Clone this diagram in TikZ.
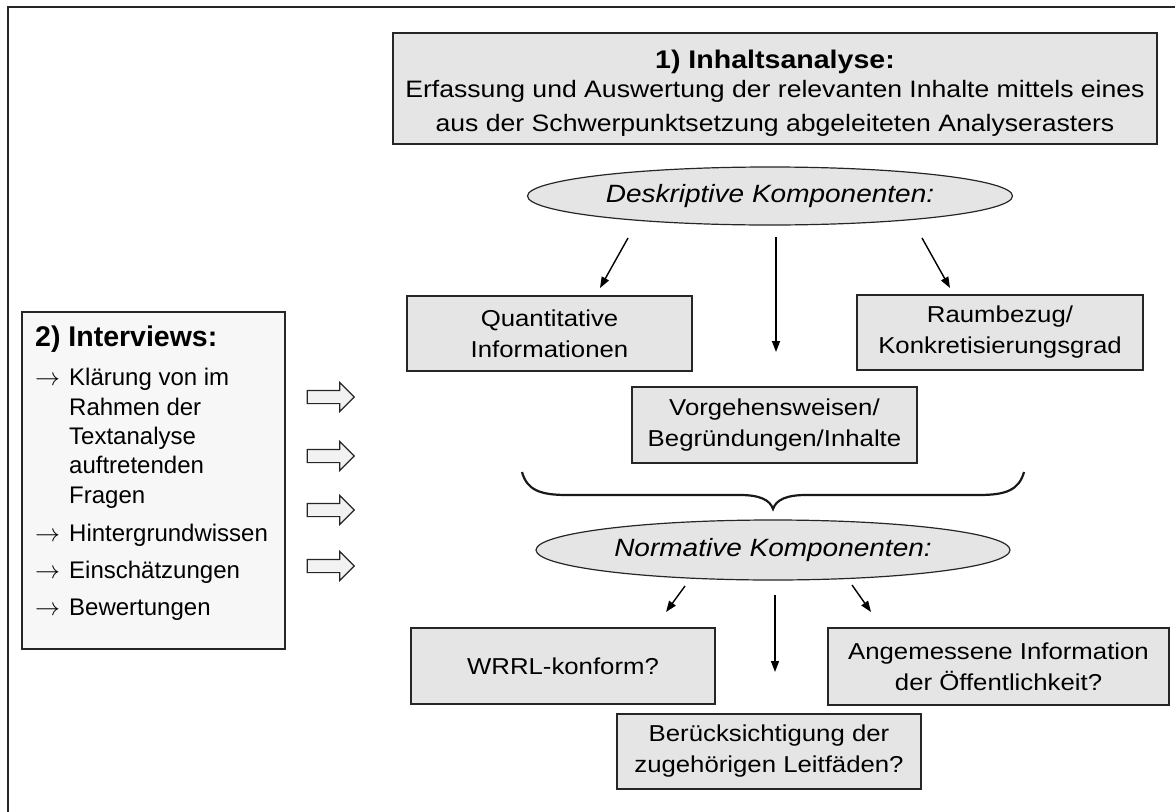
\documentclass[tikz,border=0pt]{standalone}
\usepackage{fontspec}
\setmainfont{Liberation Sans}
\newfontfamily\breit{Liberation Sans}[FakeStretch=1.12]
\usetikzlibrary{shapes.geometric,shapes.arrows,arrows.meta,positioning}

\newcommand{\pf}{\makebox[34pt][l]{$\rightarrow$}}
\newcommand{\einr}{\hspace*{34pt}}

\begin{document}
\begin{tikzpicture}[x=1pt,y=-1pt,
      kasten/.style={rectangle, draw=black!85, fill=gray!20, line width=1.4pt, inner sep=0pt, align=center, font=\breit\fontsize{23}{31}\selectfont},
      oval/.style={ellipse, draw=black!85, fill=gray!20, line width=1.2pt, inner sep=0pt, font=\breit\itshape\fontsize{25}{30}\selectfont},
      pfeil/.style={-{Triangle[length=11pt,width=8pt]}, line width=1.4pt},
      blockpfeil/.style={single arrow, draw=black!85, fill=gray!10, line width=1.2pt, minimum height=47pt, single arrow head extend=8pt, inner xsep=0pt, inner ysep=6pt}]

\useasboundingbox (0,0) rectangle (1175,811);
\draw[line width=2pt, black!85] (8,7) rectangle (1190,830);

% 1) Inhaltsanalyse
\node[kasten, minimum width=764pt, minimum height=111pt] (v0) at (775,88.5) {};
\node[anchor=north, align=center, inner sep=0pt, font=\breit\fontsize{23.75}{34}\selectfont] (v0t) at (775,49.5) {{\fontsize{25.5}{28}\selectfont\bfseries 1) Inhaltsanalyse:}\\[-5pt]Erfassung und Auswertung der relevanten Inhalte mittels eines\\aus der Schwerpunktsetzung abgeleiteten Analyserasters};

% deskriptiv
\node[oval, minimum width=485pt, minimum height=58pt] (d) at (770,196) {Deskriptive Komponenten:};
\node[kasten, minimum width=285pt, minimum height=75pt] (d1) at (549.5,333.5) {Quantitative\\Informationen};
\node[kasten, minimum width=285pt, minimum height=76pt] (d2) at (774.5,425) {Vorgehensweisen/\\Begründungen/Inhalte};
\node[kasten, minimum width=286pt, minimum height=75pt] (d3) at (1000,332.5) {Raumbezug/\\Konkretisierungsgrad};

\coordinate (d1a) at (628,238); \coordinate (d1b) at (600,288);
\coordinate (d2a) at (776,237); \coordinate (d2b) at (776,352);
\coordinate (d3a) at (922,238); \coordinate (d3b) at (950,288);
\draw[pfeil] (d1a) -- (d1b);
\draw[pfeil] (d2a) -- (d2b);
\draw[pfeil] (d3a) -- (d3b);

% Klammer
\draw[line width=2.2pt, black!90] (522,472) .. controls (527,490) and (540,495) .. (567,495) -- (740,495) .. controls (760,495) and (770,500) .. (773,509) .. controls (776,500) and (786,495) .. (806,495) -- (979,495) .. controls (1006,495) and (1019,490) .. (1024,472);

% normativ
\node[oval, minimum width=474pt, minimum height=60pt] (n) at (773,550) {Normative Komponenten:};
\node[kasten, minimum width=304pt, minimum height=76pt] (n1) at (563,666) {WRRL-konform?};
\node[kasten, minimum width=304pt, minimum height=75pt] (n2) at (769,751.5) {Berücksichtigung der\\zugehörigen Leitfäden?};
\node[kasten, minimum width=341pt, minimum height=77pt] (n3) at (998.5,666.5) {Angemessene Information\\der Öffentlichkeit?};

\coordinate (n1a) at (685,586); \coordinate (n1b) at (666,612);
\coordinate (n2a) at (775,595); \coordinate (n2b) at (775,672);
\coordinate (n3a) at (852,585); \coordinate (n3b) at (871,612);
\draw[pfeil] (n1a) -- (n1b);
\draw[pfeil] (n2a) -- (n2b);
\draw[pfeil] (n3a) -- (n3b);

% 2) Interviews
\node[rectangle, draw=black!85, fill=gray!6, line width=1.4pt, minimum width=263pt, minimum height=337pt] (i) at (153.5,480.5) {};
\node[anchor=north west, align=left, inner sep=0pt, font=\fontsize{24}{29.3}\selectfont] (it) at (35,326) {{\fontsize{28.5}{30}\selectfont\bfseries 2) Interviews:}\\[9.7pt]
\pf Klärung von im\\ \einr Rahmen der\\ \einr Textanalyse\\ \einr auftretenden\\ \einr Fragen\\[8.7pt]
\pf Hintergrundwissen\\[8pt]
\pf Einschätzungen\\[8pt]
\pf Bewertungen};

\foreach \y [count=\i] in {397,456,510,566}
  \node[blockpfeil] (bp\i) at (327.5,\y) {};

\end{tikzpicture}
\end{document}
